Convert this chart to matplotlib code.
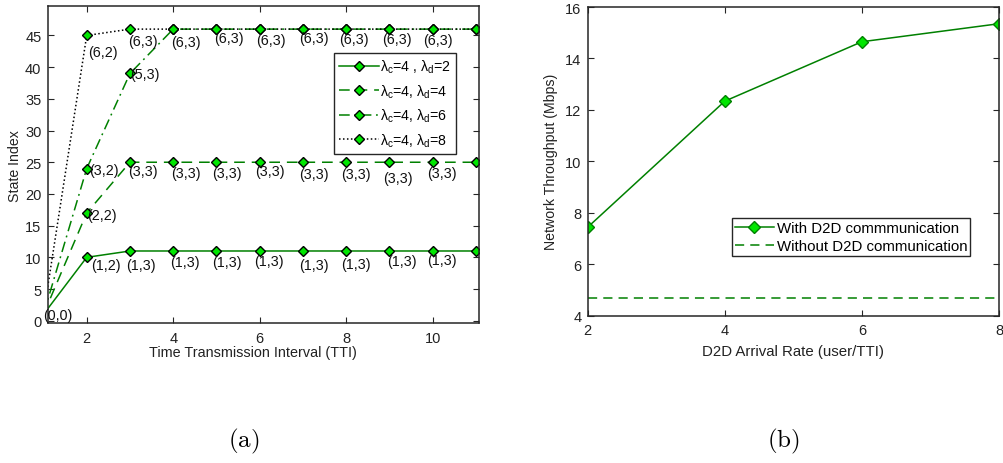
import matplotlib
matplotlib.use("Agg")
import matplotlib.pyplot as plt

plt.rcParams['font.family'] = ['Liberation Sans', 'DejaVu Sans']

# ---- (a) state index per TTI for each D2D arrival rate ----
tti = [1, 2, 3, 4, 5, 6, 7, 8, 9, 10, 11]
state_ld2 = [1, 10, 11, 11, 11, 11, 11, 11, 11, 11, 11]
state_ld4 = [1, 17, 25, 25, 25, 25, 25, 25, 25, 25, 25]
state_ld6 = [1, 24, 39, 46, 46, 46, 46, 46, 46, 46, 46]
state_ld8 = [1, 45, 46, 46, 46, 46, 46, 46, 46, 46, 46]
series_names = [r'λ$_\mathregular{c}$=4 , λ$_\mathregular{d}$=2',
                r'λ$_\mathregular{c}$=4, λ$_\mathregular{d}$=4',
                r'λ$_\mathregular{c}$=4, λ$_\mathregular{d}$=6',
                r'λ$_\mathregular{c}$=4, λ$_\mathregular{d}$=8']

# state pair (c, d) shown next to the points
pairs_ld2 = ['(0,0)', '(1,2)'] + ['(1,3)'] * 8 + [None]
pairs_ld4 = [None, '(2,2)'] + ['(3,3)'] * 8 + [None]
pairs_ld6 = [None, '(3,2)', '(5,3)'] + [None] * 8
pairs_ld8 = [None, '(6,2)'] + ['(6,3)'] * 8 + [None]

# ---- (b) throughput vs D2D arrival rate ----
arrival_rate = [2, 4, 6, 8]
thr_with_d2d = [7.44, 12.34, 14.65, 15.35]
thr_without_d2d = 4.68
legend_b = ['With D2D commmunication', 'Without D2D communication']

captions = ['(a)', '(b)']

# label placement (pixel offsets: dx right, dy down) for each annotated point
off_ld2 = [(0, 0.6), (4, 8), (-4.3, 13.7), (-3, 11.3), (-4.8, 11.3), (-5.5, 10.3),
           (-4.3, 14), (-4.6, 13), (-2.6, 10.3), (-5.9, 9), None]
off_ld4 = [None, (0.3, 1.7), (-2, 8.3), (-2.3, 10.6), (-4.8, 10.9), (-4.8, 8.9),
           (-4, 11.6), (-5.3, 11.6), (-5.9, 15.9), (-5.9, 10.6), None]
off_ld6 = [None, (2.3, 1.4), (0, 1)] + [None] * 8
off_ld8 = [None, (1.3, 17), (-2.3, 11.5), (-2.3, 12.5), (-2.5, 8.5), (-3.8, 10.5),
           (-4, 8.5), (-7, 10.2), (-6.9, 10.2), (-9.2, 11.2), None]

GREEN = '#008000'
FACE = '#00e600'
AXC = '#262626'

W, H = 1004, 464
fig = plt.figure(figsize=(W / 100, H / 100), dpi=100)


def px_axes(left, top, right, bottom):
    return fig.add_axes([left / W, 1 - bottom / H, (right - left) / W, (bottom - top) / H])


def style_axes(ax):
    for s in ax.spines.values():
        s.set_color(AXC)
        s.set_linewidth(1.1)
    ax.tick_params(direction='in', length=4, width=0.8, colors=AXC,
                   top=True, right=True, labelsize=10.5, pad=4.5)
    ax.tick_params(axis='x', pad=5.5)
    for t in ax.get_xticklabels() + ax.get_yticklabels():
        t.set_color('#222222')


# ---------------- (a) ----------------
ax1 = px_axes(47.7, 7.3, 479, 324)
styles = [dict(ls='-', color=GREEN),
          dict(ls=(0, (7, 4.5)), color=GREEN),
          dict(ls=(0, (7, 3, 1.2, 3)), color=GREEN),
          dict(ls=(0, (1, 1.6)), color='black')]
all_states = [state_ld2, state_ld4, state_ld6, state_ld8]
all_pairs = [pairs_ld2, pairs_ld4, pairs_ld6, pairs_ld8]
all_offs = [off_ld2, off_ld4, off_ld6, off_ld8]

for ys, st, name in zip(all_states, styles, series_names):
    ax1.plot(tti, ys, lw=1.1, marker='D', ms=5.6, mfc=FACE, mec='black',
             mew=1.0, label=name, **st)

for ys, prs, offs in zip(all_states, all_pairs, all_offs):
    for x, y, p, o in zip(tti, ys, prs, offs):
        if p is None:
            continue
        ax1.annotate(p, (x, y), xytext=(o[0], -o[1]), textcoords='offset pixels',
                     ha='left', va='center', fontsize=10.3, color='#111111',
                     annotation_clip=False)

ax1.set_xlim(1.098, 11.07)
ax1.set_ylim(-0.36, 49.6)
ax1.set_xticks([2, 4, 6, 8, 10])
ax1.set_yticks(range(0, 50, 5))
style_axes(ax1)
ax1.set_xlabel('Time Transmission Interval (TTI)', fontsize=10.4, color='#222222')
ax1.xaxis.set_label_coords(0.475, -0.069)
ax1.set_ylabel('State Index', fontsize=10.2, labelpad=2, color='#222222')

leg1 = ax1.legend(loc='upper left', bbox_to_anchor=(0.664, 0.8525), borderaxespad=0,
                  fontsize=10.2, handlelength=2.8, handletextpad=0.1, labelspacing=0.5,
                  borderpad=0.35, numpoints=1, fancybox=False, framealpha=1,
                  edgecolor=AXC)
leg1.get_frame().set_linewidth(1.0)

# ---------------- (b) ----------------
ax2 = px_axes(587.7, 8, 999, 316.7)
ax2.plot(arrival_rate, thr_with_d2d, color=GREEN, lw=1.1, marker='D', ms=6.2,
         mfc=FACE, mec=GREEN, mew=1.0, label=legend_b[0])
ax2.axhline(thr_without_d2d, color=GREEN, lw=1.1, ls=(0, (6, 4)), label=legend_b[1])
ax2.set_xlim(2, 8)
ax2.set_ylim(4, 16)
ax2.set_xticks([2, 4, 6, 8])
ax2.set_yticks(range(4, 17, 2))
style_axes(ax2)
ax2.set_xlabel('D2D Arrival Rate (user/TTI)', fontsize=10.8, labelpad=5, color='#222222')
ax2.set_ylabel('Network Throughput (Mbps)', fontsize=10.2, labelpad=5, color='#222222')

leg2 = ax2.legend(loc='upper left', bbox_to_anchor=(0.350, 0.3165), borderaxespad=0,
                  fontsize=10.8, handlelength=2.6, handletextpad=0.2, labelspacing=0.3,
                  borderpad=0.2, numpoints=1, fancybox=False, framealpha=1,
                  edgecolor=AXC)
leg2.get_frame().set_linewidth(1.0)

# sub-figure captions
for cx, cap in zip([244 / W, 783 / W], captions):
    fig.text(cx, 1 - 441 / H, r'$\mathrm{' + cap + '}$', math_fontfamily='cm',
             fontsize=18, ha='center', va='center', color='black')

fig.savefig('out.png', dpi=100)
